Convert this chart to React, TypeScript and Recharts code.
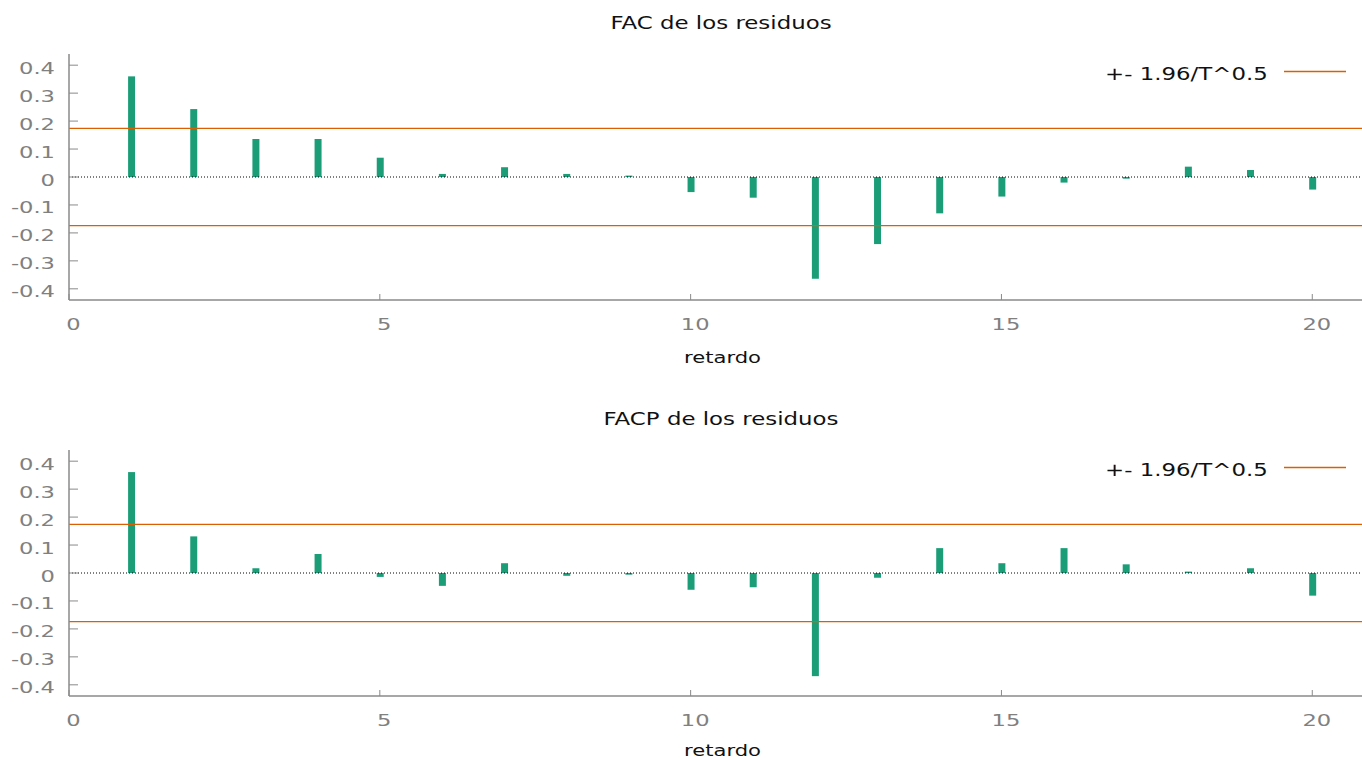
import { ComposedChart, Bar, XAxis, YAxis, ReferenceLine, Legend, Label } from 'recharts'

// retardos 1..20
const lags = [1, 2, 3, 4, 5, 6, 7, 8, 9, 10, 11, 12, 13, 14, 15, 16, 17, 18, 19, 20]
const facValues = [0.36, 0.243, 0.136, 0.136, 0.069, 0.011, 0.035, 0.011, 0.005, -0.054, -0.074, -0.364, -0.24, -0.13, -0.07, -0.02, -0.006, 0.037, 0.025, -0.045]
const facpValues = [0.361, 0.131, 0.017, 0.068, -0.014, -0.046, 0.035, -0.01, -0.006, -0.06, -0.051, -0.369, -0.017, 0.089, 0.035, 0.089, 0.031, 0.005, 0.017, -0.081]
const band = 0.174
const yTicks = [-0.4, -0.3, -0.2, -0.1, 0, 0.1, 0.2, 0.3, 0.4]
const xTicks = [0, 5, 10, 15, 20]

const FONT = '"DejaVu Sans", sans-serif'
const GREEN = '#1b9e77'
const ORANGE = '#d95f02'
const AXIS = '#8a8a8a'
// the original plot is stretched sideways, text included
const SX = 1.362

const fmt = (v: number) => (v === 0 ? '0' : v.toFixed(1))

function WideText({ x, y, size, fill, anchor, children }: any) {
  return (
    <text
      transform={`translate(${x} ${y}) scale(${SX} 1)`}
      textAnchor={anchor || 'start'}
      fill={fill}
      fontSize={size}
      fontFamily={FONT}
    >
      {children}
    </text>
  )
}

function YTick({ x, y, payload }: any) {
  const ax = x + 14
  return (
    <g>
      <line x1={ax} x2={ax + 9} y1={y} y2={y} stroke={AXIS} />
      <WideText x={x} y={y + 8.5} size={16.6} fill="#808080" anchor="end">
        {fmt(payload.value)}
      </WideText>
    </g>
  )
}

function XTick({ x, y, payload }: any) {
  return (
    <g>
      <line x1={x} x2={x} y1={y} y2={y - 6} stroke={AXIS} />
      <WideText x={x + 4.5} y={y + 29.5} size={16.6} fill="#808080" anchor="middle">
        {payload.value}
      </WideText>
    </g>
  )
}

function BandLegend() {
  return (
    <svg width={272} height={40}>
      <WideText x={15} y={25} size={16.8} fill="#111">+- 1.96/T^0.5</WideText>
      <line x1={194} x2={256} y1={16.5} y2={16.5} stroke={ORANGE} strokeWidth={1.3} />
    </svg>
  )
}

function Panel({ title, values, top, height, xlabelY }: { title: string; values: number[]; top: number; height: number; xlabelY: number }) {
  const data = lags.map((lag, i) => ({ lag, value: values[i] }))
  return (
    <div style={{ position: 'absolute', left: 0, top, width: 1362, height }}>
      <svg width={1362} height={40} style={{ position: 'absolute', left: 0, top: 0 }}>
        <WideText x={721} y={28.5} size={16.8} fill="#111" anchor="middle">{title}</WideText>
      </svg>
      <ComposedChart width={1362} height={height} data={data} margin={{ top: 54, right: 0, bottom: 0, left: 0 }}>
        <XAxis
          type="number"
          dataKey="lag"
          domain={[0, 20.8]}
          ticks={xTicks}
          height={height - 300}
          tickSize={0}
          tickMargin={0}
          tick={<XTick />}
          axisLine={{ stroke: AXIS, strokeWidth: 1.5 }}
        >
          <Label
            content={() => (
              <WideText x={722.5} y={xlabelY} size={15.5} fill="#111" anchor="middle">retardo</WideText>
            )}
          />
        </XAxis>
        <YAxis
          type="number"
          domain={[-0.44, 0.44]}
          ticks={yTicks}
          width={69}
          tickSize={0}
          tickMargin={14}
          tick={<YTick />}
          axisLine={{ stroke: AXIS, strokeWidth: 1.5 }}
        />
        <ReferenceLine y={0} stroke="#000" strokeDasharray="1 2" />
        <Bar dataKey="value" fill={GREEN} barSize={7} isAnimationActive={false} />
        <ReferenceLine y={band} stroke={ORANGE} strokeWidth={1.3} />
        <ReferenceLine y={-band} stroke={ORANGE} strokeWidth={1.3} />
        <Legend
          layout="horizontal"
          verticalAlign="middle"
          align="center"
          content={() => <BandLegend />}
          wrapperStyle={{ position: 'absolute', left: 1090, top: 55, width: 272, height: 40, bottom: 'auto' }}
        />
      </ComposedChart>
    </div>
  )
}

export default function App() {
  return (
    <div style={{ position: 'absolute', left: 0, top: 0, width: 1362, height: 758, background: '#fff' }}>
      <Panel title="FAC de los residuos" values={facValues} top={0} height={396} xlabelY={363} />
      <Panel title="FACP de los residuos" values={facpValues} top={396} height={362} xlabelY={359.5} />
    </div>
  )
}
